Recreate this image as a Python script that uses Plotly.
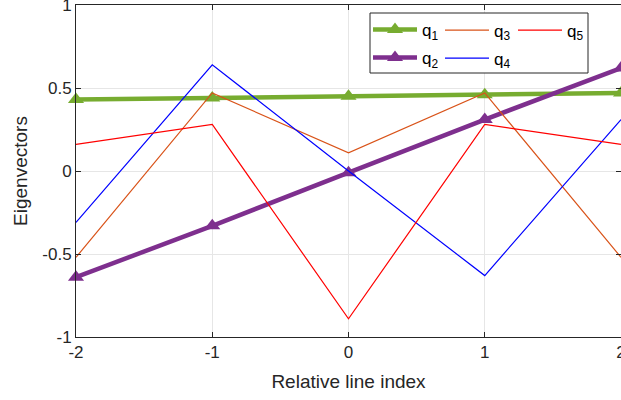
import plotly.graph_objects as go

x_idx = [-2, -1, 0, 1, 2]
q1 = [0.43, 0.44, 0.45, 0.46, 0.47]
q2 = [-0.64, -0.33, -0.01, 0.31, 0.62]
q3 = [-0.52, 0.47, 0.11, 0.47, -0.52]
q4 = [-0.31, 0.64, 0.0, -0.63, 0.31]
q5 = [0.16, 0.28, -0.89, 0.28, 0.16]

names = ["q<sub>1</sub>", "q<sub>2</sub>", "q<sub>3</sub>", "q<sub>4</sub>", "q<sub>5</sub>"]
x_ticks = [-2, -1, 0, 1, 2]
x_ticktext = ["-2", "-1", "0", "1", "2"]
y_ticks = [-1, -0.5, 0, 0.5, 1]
y_ticktext = ["-1", "-0.5", "0", "0.5", "1"]

W, H = 621, 400
ML, MR, MT, MB = 76, 0, 5, 63
PW, PH = W - ML - MR, H - MT - MB

def px(p):
    return (p - ML) / PW

def py(p):
    return (H - MB - p) / PH

FONT = "Liberation Sans, Arial"

fig = go.Figure()
series = [q1, q2, q3, q4, q5]
colors = ["#77AC30", "#7E2F8E", "#D95319", "#0000FF", "#FF0000"]
thick = [True, True, False, False, False]
legends = ["legend", "legend2", "legend3", "legend4", "legend5"]
for s, n, c, t, lg in zip(series, names, colors, thick, legends):
    if t:
        fig.add_trace(go.Scatter(x=x_idx, y=s, name=n, mode="lines+markers",
                                 line=dict(color=c, width=4.5),
                                 marker=dict(symbol="triangle-up", size=14, color=c),
                                 legend=lg, showlegend=True, cliponaxis=False))
    else:
        fig.add_trace(go.Scatter(x=x_idx, y=s, name=n, mode="lines",
                                 line=dict(color=c, width=1.2),
                                 legend=lg, showlegend=True))

# legend positions (pixel left, pixel center y)
leg_pos = {"legend": (368, 30), "legend2": (368, 58), "legend3": (440, 30.5),
           "legend4": (440, 58.5), "legend5": (513, 30.5)}
leg_layout = {}
for k, (lx, ly) in leg_pos.items():
    leg_layout[k] = dict(x=px(lx), y=py(ly), xanchor="left", yanchor="middle",
                         bgcolor="rgba(0,0,0,0)", borderwidth=0, itemwidth=44,
                         font=dict(family=FONT, size=17, color="#000000"))

axis_common = dict(showline=True, linecolor="#262626", linewidth=1, mirror="ticks",
                   ticks="inside", ticklen=5, tickcolor="#262626", automargin=False,
                   ticklabeloverflow="allow",
                   showgrid=True, gridcolor="#E6E6E6", gridwidth=1, zeroline=False,
                   tickfont=dict(family=FONT, size=17, color="#262626"))

fig.update_layout(
    width=W, height=H, showlegend=True,
    margin=dict(l=ML, r=MR, t=MT, b=MB, autoexpand=False),
    paper_bgcolor="white", plot_bgcolor="white",
    xaxis=dict(range=[-2, 2], tickvals=x_ticks, ticktext=x_ticktext,
               title=dict(text="Relative line index", standoff=13,
                          font=dict(family=FONT, size=19, color="#262626")),
               **axis_common),
    yaxis=dict(range=[-1, 1], tickvals=y_ticks, ticktext=y_ticktext,
               title=dict(text="Eigenvectors", standoff=9,
                          font=dict(family=FONT, size=19, color="#262626")),
               **axis_common),
    shapes=[dict(type="rect", xref="paper", yref="paper",
                 x0=px(370), x1=px(588), y0=py(73), y1=py(13),
                 line=dict(color="#262626", width=1), fillcolor="white", layer="above")],
    **leg_layout,
)

fig.write_html("out.html", config={"displayModeBar": False},
               post_script="document.body.style.margin='0';document.body.style.padding='0';")
